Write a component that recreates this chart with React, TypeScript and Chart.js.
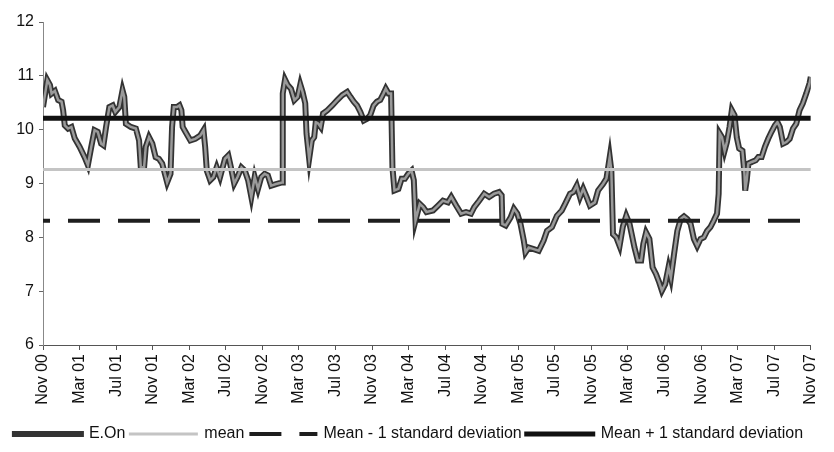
import React, { useEffect, useRef } from "react";
import { Chart, registerables } from "chart.js";

Chart.register(...registerables);

// Months elapsed since Nov 2000 for each E.On observation
const eonMonth = [
  0.0, 0.47, 0.76, 0.94, 1.3, 1.66, 2.03, 2.2, 2.38, 2.74, 3.11, 3.47, 4.01, 4.55, 4.91, 5.28, 5.64, 5.99, 6.36, 6.61,
  6.9, 7.26, 7.62, 7.91, 8.35, 8.7, 8.89, 9.07, 9.61, 10.16, 10.51, 10.7, 11.06, 11.24, 11.6, 11.96, 12.32, 12.68, 13.04, 13.58,
  13.95, 14.12, 14.31, 14.67, 14.93, 15.14, 15.28, 15.58, 16.12, 16.66, 17.2, 17.56, 17.74, 17.92, 18.29, 18.64, 19.0, 19.37, 19.91, 20.27,
  20.56, 20.92, 21.28, 21.71, 22.08, 22.44, 22.79, 23.16, 23.52, 23.88, 24.25, 24.6, 24.96, 25.5, 26.15, 26.23, 26.48, 26.77, 27.13, 27.5,
  27.86, 28.15, 28.4, 28.69, 28.83, 29.12, 29.41, 29.67, 29.84, 30.13, 30.38, 30.64, 31.11, 31.65, 32.19, 32.73, 33.28, 33.63, 34.0, 34.36,
  34.72, 35.09, 35.44, 35.8, 36.17, 36.53, 36.89, 37.25, 37.5, 37.8, 38.08, 38.23, 38.45, 38.88, 39.24, 39.59, 39.96, 40.32, 40.57, 40.75,
  41.22, 41.59, 41.95, 42.67, 43.22, 43.76, 44.3, 44.66, 45.2, 45.74, 46.28, 46.82, 47.18, 47.72, 48.27, 48.81, 49.35, 49.89, 50.18, 50.26,
  50.62, 51.16, 51.52, 51.89, 52.24, 52.6, 52.79, 53.14, 53.69, 54.23, 54.77, 55.14, 55.68, 56.22, 56.76, 57.12, 57.66, 58.02, 58.39, 58.75,
  59.1, 59.47, 59.83, 60.37, 60.73, 61.27, 61.64, 62.0, 62.18, 62.36, 62.72, 63.08, 63.44, 63.81, 64.17, 64.71, 65.07, 65.44, 65.68, 65.98,
  66.34, 66.69, 67.06, 67.42, 67.71, 68.07, 68.43, 68.69, 69.04, 69.4, 69.77, 70.13, 70.49, 70.85, 71.21, 71.57, 71.94, 72.3, 72.65, 73.02,
  73.38, 73.74, 73.92, 74.03, 74.28, 74.57, 74.82, 75.11, 75.36, 75.65, 75.9, 76.16, 76.52, 76.74, 76.82, 76.99, 77.17, 77.53, 77.97, 78.26,
  78.62, 78.98, 79.34, 79.7, 80.07, 80.35, 80.61, 80.97, 81.33, 81.69, 82.05, 82.41, 82.77, 83.13, 83.5, 83.86, 84.0,
];

// E.On values
const eonValues = [
  10.42, 10.92, 10.83, 10.67, 10.72, 10.55, 10.52, 10.36, 10.08, 10.02, 10.05, 9.84, 9.68, 9.49, 9.34, 9.68, 9.99, 9.96, 9.74, 9.71,
  10.05, 10.42, 10.45, 10.33, 10.42, 10.73, 10.61, 10.11, 10.05, 10.02, 9.8, 9.3, 9.3, 9.68, 9.86, 9.74, 9.49, 9.46, 9.37, 9.02,
  9.18, 10.05, 10.42, 10.42, 10.45, 10.36, 10.05, 9.96, 9.8, 9.83, 9.89, 9.99, 9.68, 9.24, 9.06, 9.12, 9.3, 9.12, 9.46, 9.52,
  9.3, 9.0, 9.12, 9.3, 9.24, 9.06, 8.75, 9.12, 8.9, 9.12, 9.18, 9.15, 8.96, 8.99, 9.02, 10.67, 10.93, 10.83, 10.76, 10.55,
  10.61, 10.84, 10.7, 10.49, 9.93, 9.46, 9.8, 9.86, 10.14, 10.11, 10.05, 10.3, 10.36, 10.45, 10.55, 10.64, 10.7, 10.61, 10.52, 10.45,
  10.33, 10.17, 10.2, 10.27, 10.45, 10.52, 10.55, 10.67, 10.76, 10.67, 10.67, 9.3, 8.87, 8.9, 9.09, 9.09, 9.18, 9.24, 9.06, 8.31,
  8.62, 8.56, 8.47, 8.5, 8.59, 8.68, 8.65, 8.75, 8.59, 8.44, 8.47, 8.44, 8.56, 8.68, 8.81, 8.75, 8.81, 8.84, 8.78, 8.25,
  8.22, 8.37, 8.53, 8.44, 8.25, 7.94, 7.72, 7.81, 7.78, 7.75, 7.94, 8.12, 8.19, 8.4, 8.5, 8.62, 8.81, 8.84, 8.96, 8.75,
  8.9, 8.75, 8.59, 8.65, 8.87, 8.99, 9.09, 9.49, 9.24, 8.06, 8.0, 7.84, 8.2, 8.4, 8.25, 7.81, 7.57, 7.57, 7.88, 8.09,
  7.97, 7.44, 7.32, 7.16, 7.01, 7.13, 7.44, 7.25, 7.69, 8.12, 8.34, 8.39, 8.34, 8.25, 7.97, 7.84, 7.97, 8.0, 8.12, 8.19,
  8.31, 8.44, 8.81, 9.93, 9.86, 9.61, 9.77, 10.05, 10.36, 10.27, 9.86, 9.65, 9.61, 9.18, 8.87, 9.06, 9.37, 9.4, 9.43, 9.49,
  9.49, 9.68, 9.83, 9.96, 10.08, 10.14, 10.05, 9.74, 9.77, 9.83, 10.02, 10.11, 10.36, 10.49, 10.67, 10.86, 10.98,
];

const meanValue = 9.26;
const meanMinusSd = 8.31;
const meanPlusSd = 10.21;

const tickLabels = [
  "Nov 00", "Mar 01", "Jul 01", "Nov 01", "Mar 02", "Jul 02", "Nov 02", "Mar 03", "Jul 03", "Nov 03", "Mar 04",
  "Jul 04", "Nov 04", "Mar 05", "Jul 05", "Nov 05", "Mar 06", "Jul 06", "Nov 06", "Mar 07", "Jul 07", "Nov 07",
];
const monthsPerTick = 4;
const yTicks = [6, 7, 8, 9, 10, 11, 12];

const FONT = "'Liberation Sans', Arial, Helvetica, sans-serif";

export default function App() {
  const ref = useRef<HTMLCanvasElement | null>(null);

  useEffect(() => {
    if (!ref.current) return;
    const eonPoints = eonMonth.map((m, i) => ({ x: m, y: eonValues[i] }));
    const lastMonth = (tickLabels.length - 1) * monthsPerTick;
    const flat = (v: number) => [
      { x: 0, y: v },
      { x: lastMonth, y: v },
    ];
    const defaultLabels = (Chart.defaults as any).plugins.legend.labels.generateLabels;
    const chart = new Chart(ref.current, {
      type: "line",
      data: {
        datasets: [
          {
            label: "E.On",
            data: eonPoints,
            borderColor: "#333333",
            backgroundColor: "#333333",
            borderWidth: 6,
            pointRadius: 0,
            tension: 0,
            order: 3,
          },
          {
            label: "mean",
            data: flat(meanValue),
            borderColor: "#c4c4c4",
            backgroundColor: "#c4c4c4",
            borderWidth: 3,
            pointRadius: 0,
            order: 0,
          },
          {
            label: "Mean - 1 standard deviation",
            data: flat(meanMinusSd),
            borderColor: "#1e1e1e",
            backgroundColor: "#1e1e1e",
            borderWidth: 4,
            borderDash: [32, 18],
            borderDashOffset: 25,
            pointRadius: 0,
            order: 0,
          },
          {
            label: "Mean + 1 standard deviation",
            data: flat(meanPlusSd),
            borderColor: "#111111",
            backgroundColor: "#111111",
            borderWidth: 5,
            pointRadius: 0,
            order: 0,
          },
          {
            label: "E.On inner",
            data: eonPoints,
            borderColor: "#9a9a9a",
            backgroundColor: "#9a9a9a",
            borderWidth: 2.5,
            pointRadius: 0,
            tension: 0,
            order: 2,
          },
        ],
      },
      options: {
        responsive: false,
        animation: false,
        layout: { padding: { top: 22, right: 16, left: 0, bottom: 0 } },
        font: { family: FONT },
        plugins: {
          tooltip: { enabled: false },
          legend: {
            position: "bottom",
            labels: {
              generateLabels: (c: any) =>
                defaultLabels(c).map((item: any) => ({ ...item, lineDashOffset: 0 })),
              filter: (item: any) => item.datasetIndex !== 4,
              sort: (a: any, b: any) => a.datasetIndex - b.datasetIndex,
              usePointStyle: false,
              boxWidth: 66,
              boxHeight: 0.001,
              padding: 5,
              color: "#111",
              font: { family: FONT, size: 16 },
            },
          },
        },
        scales: {
          x: {
            type: "linear",
            min: 0,
            max: lastMonth,
            afterFit: (s: any) => {
              s.height = 76;
            },
            afterBuildTicks: (s: any) => {
              s.ticks = tickLabels.map((_, i) => ({ value: i * monthsPerTick }));
            },
            ticks: {
              autoSkip: false,
              minRotation: 90,
              maxRotation: 90,
              padding: 4,
              color: "#111",
              font: { family: FONT, size: 16 },
              callback: (v: any) => tickLabels[Math.round(Number(v) / monthsPerTick)],
            },
            grid: { drawOnChartArea: false, drawTicks: true, tickLength: 5, color: "#555" },
            border: { display: true, color: "#555", width: 1 },
          },
          y: {
            type: "linear",
            min: 6,
            max: 12,
            afterFit: (s: any) => {
              s.width = 43;
            },
            afterBuildTicks: (s: any) => {
              s.ticks = yTicks.map((v) => ({ value: v }));
            },
            ticks: {
              padding: 5,
              color: "#111",
              font: { family: FONT, size: 16 },
            },
            grid: { drawOnChartArea: false, drawTicks: true, tickLength: 4, color: "#666" },
            border: { display: true, color: "#888", width: 1, dash: [1, 2] },
          },
        },
      },
    } as any);
    return () => chart.destroy();
  }, []);

  return (
    <div style={{ position: "fixed", left: 0, top: 0, width: 834, height: 452, background: "#fff" }}>
      <canvas ref={ref} width={834} height={452} />
    </div>
  );
}
